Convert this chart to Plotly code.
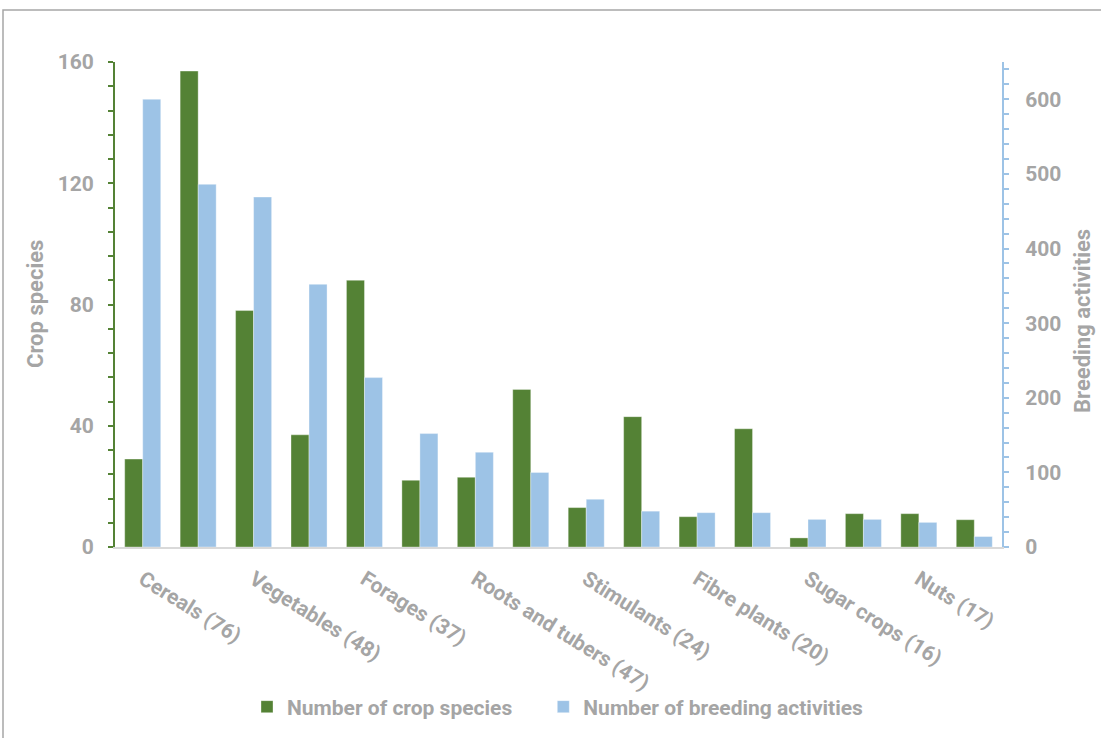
import plotly.graph_objects as go

# ---- data ----
positions = list(range(16))                       # 16 crop groups, Excel shows every other label
tick_positions = [0, 2, 4, 6, 8, 10, 12, 14]
tick_labels = ["Cereals (76)", "Vegetables (48)", "Forages (37)", "Roots and tubers (47)",
               "Stimulants (24)", "Fibre plants (20)", "Sugar crops (16)", "Nuts (17)"]
crop_species = [29, 157, 78, 37, 88, 22, 23, 52, 13, 43, 10, 39, 3, 11, 11, 9]
breeding_activities = [600, 486, 469, 352, 227, 152, 127, 100, 64, 48, 46, 46, 37, 37, 33, 14]
series_names = ["Number of crop species", "Number of breeding activities"]

GREEN = "#548235"
BLUE = "#9DC3E6"
GREY = "#A5A5A5"
FONT = "Roboto, 'Noto Sans', sans-serif"
PAD = "\u00a0" * 5

fig = go.Figure()
fig.add_trace(go.Bar(x=positions, y=crop_species, name=series_names[0] + PAD,
                     marker=dict(color=GREEN, line=dict(color="rgba(255,255,255,0.35)", width=1)),
                     offsetgroup="a", yaxis="y"))
fig.add_trace(go.Bar(x=positions, y=breeding_activities, name=series_names[1],
                     marker=dict(color=BLUE, line=dict(color="rgba(255,255,255,0.35)", width=1)),
                     offsetgroup="b", yaxis="y2"))

L, R, T, B = 115, 1002, 62, 547
W, H = 1101, 738
pw, ph = R - L, B - T

def px(xp):
    return (xp - L) / pw

def py(yp):
    return (B - yp) / ph

def f(size):
    return dict(size=size, color=GREY, family=FONT, weight="bold")

fig.update_layout(
    width=W, height=H,
    margin=dict(l=L, r=W - R, t=T, b=H - B, pad=0, autoexpand=False),
    paper_bgcolor="white", plot_bgcolor="white",
    barmode="group", bargap=0.35, bargroupgap=0,
    font=f(20),
    xaxis=dict(range=[-0.5, 15.5], tickmode="array", tickvals=tick_positions, ticktext=tick_labels,
               tickangle=32, showgrid=False, zeroline=False, showline=True, linecolor="#D9D9D9",
               linewidth=2, ticks="", ticklabelstandoff=10, tickfont=f(21)),
    yaxis=dict(range=[0, 160], dtick=40, showgrid=False, zeroline=False, showline=True,
               linecolor=GREEN, linewidth=2, ticks="outside", ticklen=5, tickwidth=2, tickcolor=GREEN,
               minor=dict(dtick=8, ticks="outside", ticklen=5, tickwidth=1.5, tickcolor=GREEN),
               ticklabelstandoff=10, tickfont=f(21)),
    yaxis2=dict(range=[0, 650], dtick=100, overlaying="y", side="right", showgrid=False,
                zeroline=False, showline=True, linecolor=BLUE, linewidth=2, ticks="outside",
                ticklen=5, tickwidth=2, tickcolor=BLUE,
                minor=dict(dtick=20, ticks="outside", ticklen=5, tickwidth=1.5, tickcolor=BLUE),
                ticklabelstandoff=12, tickfont=f(21)),
    legend=dict(orientation="h", x=px(247), xanchor="left", y=py(707), yanchor="middle",
                font=f(21), bgcolor="rgba(0,0,0,0)", itemclick=False),
    showlegend=True,
    annotations=[
        dict(text="Crop species", textangle=-90, xref="paper", yref="paper",
             x=px(35), y=py(304), xanchor="center", yanchor="middle", showarrow=False, font=f(22)),
        dict(text="Breeding activities", textangle=-90, xref="paper", yref="paper",
             x=px(1082), y=py(321), xanchor="center", yanchor="middle", showarrow=False, font=f(22)),
    ],
    shapes=[dict(type="rect", xref="paper", yref="paper",
                 x0=px(3), x1=px(1120), y0=py(760), y1=py(10),
                 line=dict(color="#A6A6A6", width=1.5), fillcolor="rgba(0,0,0,0)", layer="below")],
)

fig.write_html("out.html", config={"displayModeBar": False},
               post_script="document.body.style.margin='0';document.body.style.overflow='hidden';")
